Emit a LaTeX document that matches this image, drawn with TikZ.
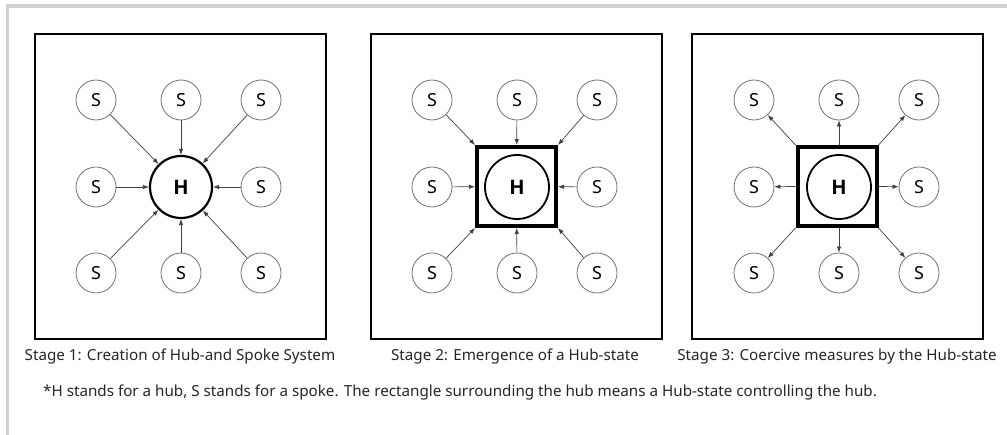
\documentclass[tikz,border=0pt]{standalone}
\usepackage{fontspec}
\setmainfont{Noto Sans}
\newfontfamily\hubfont{Open Sans}
\usetikzlibrary{arrows.meta}
\begin{document}
\begin{tikzpicture}[x=1pt,y=-1pt,
 spoke/.style={circle,draw=black!55,line width=0.8pt,minimum size=40pt,inner sep=0pt,font=\fontsize{18}{18}\selectfont},
 hub/.style={circle,draw=black,line width=2.2pt,minimum size=62pt,inner sep=0pt,font=\hubfont\bfseries\fontsize{20}{20}\selectfont},
 hubin/.style={hub,line width=1.8pt,minimum size=64pt},
 hstate/.style={rectangle,draw=black,line width=4pt,minimum size=79pt,inner sep=0pt},
 panel/.style={rectangle,draw=black,line width=2pt,minimum width=291pt,minimum height=305pt,inner sep=0pt},
 arr/.style={draw=black!75,line width=0.7pt,-{Latex[length=6pt,width=4.5pt]}},
 captxt/.style={font=\fontsize{15.2}{15.2}\selectfont,text=black!85,inner sep=0pt}
]
\useasboundingbox (0,0) rectangle (1007,435);
\fill[white] (0,0) rectangle (1007,435);
\draw[black!18,line width=3.5pt] (7.5,435) -- (7.5,6) -- (1007,6);

% panels
\node[panel] (p1) at (180.5,186.5) {};
\node[panel] (p2) at (516.5,186.5) {};
\node[panel] (p3) at (837.5,186.5) {};

% hubs
\node[hub] (h1) at (181,187) {H};
\node[hstate] (r2) at (516.5,186.5) {};
\node[hubin] (h2) at (517,187) {H};
\node[hstate] (r3) at (837,186.5) {};
\node[hubin] (h3) at (839,187) {H};

% spokes
\foreach \p/\cx in {1/181,2/517,3/839}{
  \foreach \n/\dx/\dy in {lt/-85/-87,mt/0/-87,rt/80/-87,lc/-85/0,rc/80/0,lb/-85/86,mb/0/86,rb/80/86}{
    \node[spoke] (s\p\n) at (\cx+\dx,187+\dy) {S};
  }
}

% stage 1 arrows
\foreach \n in {lt,mt,rt,lc,rc,lb,mb,rb}{
  \draw[arr] (s1\n) -- (h1);
}
% stage 2 arrows
\draw[arr] (s2lt) -- (r2.north west);
\draw[arr] (s2mt) -- (r2);
\draw[arr] (s2rt) -- (r2.north east);
\draw[arr] (s2lc) -- (r2);
\draw[arr] (s2rc) -- (r2);
\draw[arr] (s2lb) -- (r2.south west);
\draw[arr] (s2mb) -- (r2);
\draw[arr] (s2rb) -- (r2.south east);
% stage 3 arrows
\draw[arr] (r3.north west) -- (s3lt);
\draw[arr] (r3.north -| s3mt) -- (s3mt);
\draw[arr] (r3.north east) -- (s3rt);
\draw[arr] (r3.west) -- (s3lc);
\draw[arr] (r3.east) -- (s3rc);
\draw[arr] (r3.south west) -- (s3lb);
\draw[arr] (r3.south -| s3mb) -- (s3mb);
\draw[arr] (r3.south east) -- (s3rb);

% captions
\node[captxt] (c1) at (180,357) {Stage 1: Creation of Hub-and Spoke System};
\node[captxt] (c2) at (515,357) {Stage 2: Emergence of a Hub-state};
\node[captxt] (c3) at (837,357) {Stage 3: Coercive measures by the Hub-state};
\node[captxt,anchor=west] (fn) at (43,393) {*H stands for a hub, S stands for a spoke. The rectangle surrounding the hub means a Hub-state controlling the hub.};
\end{tikzpicture}
\end{document}
